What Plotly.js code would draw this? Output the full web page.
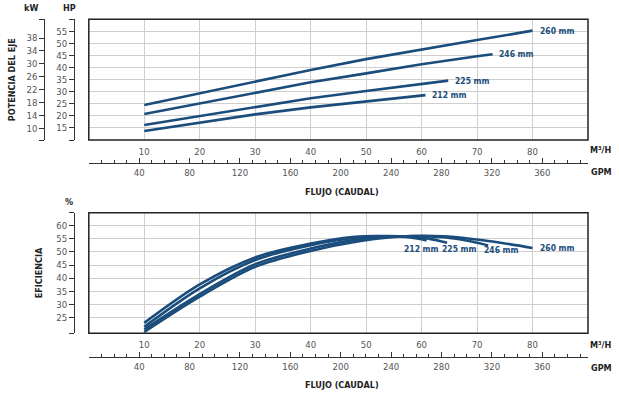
<!DOCTYPE html>
<html>
<head>
<meta charset="utf-8">
<script src="https://cdn.plot.ly/plotly-3.0.1.min.js"></script>
<style>html,body{margin:0;padding:0;background:#fff}#chart{width:619px;height:398px}</style>
</head>
<body>
<div id="chart"></div>
<script>
// ---- data ----
const diameters = ['212 mm', '225 mm', '246 mm', '260 mm'];

// Power (HP) vs flow (m3/h)
const powFlow212 = [10, 20, 30, 40, 50, 60.7];
const powHP212   = [13.7, 17.2, 20.6, 23.5, 26.0, 28.6];
const powFlow225 = [10, 20, 30, 40, 50, 60, 64.8];
const powHP225   = [16.2, 19.9, 23.8, 27.3, 30.3, 33.2, 34.6];
const powFlow246 = [10, 20, 30, 40, 50, 60, 70, 72.8];
const powHP246   = [20.8, 25.2, 29.6, 33.9, 37.6, 41.4, 44.7, 45.5];
const powFlow260 = [10, 20, 30, 40, 50, 60, 70, 80];
const powHP260   = [24.5, 29.3, 34.4, 39.0, 43.5, 47.6, 51.4, 55.3];

// Efficiency (%) vs flow (m3/h)
const effFlow212 = [10, 20, 30, 40, 48, 54, 58, 60.9];
const eff212     = [22.9, 37.6, 47.9, 53.2, 55.8, 56.0, 55.5, 54.4];
const effFlow225 = [10, 20, 30, 40, 49, 56, 61, 64.6];
const eff225     = [21.4, 36.1, 46.9, 52.6, 55.6, 56.0, 55.2, 53.5];
const effFlow246 = [10, 20, 30, 40, 49, 57, 64, 69, 72];
const eff246     = [20.4, 33.9, 45.3, 51.3, 54.9, 56.0, 55.6, 54.0, 52.5];
const effFlow260 = [10, 20, 30, 40, 49, 57, 64, 72, 80];
const eff260     = [19.4, 32.9, 44.3, 50.4, 54.2, 56.0, 56.0, 54.2, 51.5];

// tick labels
const flowTicks = [10, 20, 30, 40, 50, 60, 70, 80];
const gpmTicks  = [40, 80, 120, 160, 200, 240, 280, 320, 360];
const hpTicks   = [10, 15, 20, 25, 30, 35, 40, 45, 50, 55, 60];
const hpText    = ['', '15', '20', '25', '30', '35', '40', '45', '50', '55', ''];
const kwTicks   = [6.37, 10, 14, 18, 22, 26, 30, 34, 38, 43.8];
const kwText    = ['', '10', '14', '18', '22', '26', '30', '34', '38', ''];
const effTicks  = [19, 25, 30, 35, 40, 45, 50, 55, 60, 65];
const effText   = ['', '25', '30', '35', '40', '45', '50', '55', '60', ''];

// ---- styling ----
const BLUE = '#1b4d7c';
const FONT = 'DejaVu Sans Condensed, Liberation Sans Narrow, Arial Narrow, sans-serif';
const tickFont = {family: FONT, size: 9.5, color: '#555'};
const boldFont = {family: FONT, size: 9, color: '#222', weight: 'bold'};
const lblFont  = {family: FONT, size: 8.5, color: BLUE, weight: 'bold'};
const XDOM = [88.8 / 619, 588 / 619];
const M3H_PER_GPM = 0.22712;
const xMax = 90;

function line(x, y, xa, ya, name, shape) {
  return {x: x, y: y, xaxis: xa, yaxis: ya, name: name, type: 'scatter', mode: 'lines',
          line: {color: BLUE, width: 2.6, shape: shape || 'linear', smoothing: 0.9},
          hoverinfo: 'x+y+name', showlegend: false};
}
// empty traces so the secondary (GPM, kW) axes get drawn
function axisHolder(xa, ya) {
  return {x: [], y: [], xaxis: xa, yaxis: ya, type: 'scatter', mode: 'lines', showlegend: false, hoverinfo: 'skip'};
}

const traces = [
  line(powFlow212, powHP212, 'x', 'y', diameters[0]),
  line(powFlow225, powHP225, 'x', 'y', diameters[1]),
  line(powFlow246, powHP246, 'x', 'y', diameters[2]),
  line(powFlow260, powHP260, 'x', 'y', diameters[3]),
  line(effFlow212, eff212, 'x2', 'y3', diameters[0], 'spline'),
  line(effFlow225, eff225, 'x2', 'y3', diameters[1], 'spline'),
  line(effFlow246, eff246, 'x2', 'y3', diameters[2], 'spline'),
  line(effFlow260, eff260, 'x2', 'y3', diameters[3], 'spline'),
  axisHolder('x3', 'y'),
  axisHolder('x', 'y2'),
  axisHolder('x4', 'y3')
];

const topDom = [(398 - 140) / 398, (398 - 19.3) / 398];
const botDom = [(398 - 333.3) / 398, (398 - 212.7) / 398];

function flowAxis(anchor) {
  return {domain: XDOM, range: [0, xMax], anchor: anchor, tickvals: flowTicks, ticks: '',
          showgrid: true, gridcolor: '#cfcfcf', gridwidth: 1, zeroline: false, showline: false,
          tickfont: tickFont, ticklabelstandoff: 4, fixedrange: true};
}
function gpmAxis(over, pos) {
  return {overlaying: over, anchor: 'free', position: pos, side: 'bottom', autorange: false,
          range: [0, xMax / M3H_PER_GPM], tickvals: gpmTicks, ticks: 'inside', ticklen: 5,
          tickcolor: '#333', tickwidth: 1, showline: true, linecolor: '#333', linewidth: 1,
          minor: {dtick: 10, tick0: 0, ticks: 'inside', ticklen: 2.5, tickcolor: '#333'},
          showgrid: false, zeroline: false, tickfont: tickFont, ticklabelstandoff: 1, fixedrange: true};
}
function valAxis(extra) {
  return Object.assign({anchor: 'free', side: 'left', ticks: 'outside', ticklen: 5, tickcolor: '#333',
          showline: true, linecolor: '#333', linewidth: 1, zeroline: false, tickfont: tickFont,
          autorange: false, fixedrange: true}, extra);
}

function note(px, py, text, extra) {
  return Object.assign({xref: 'paper', yref: 'paper', x: px / 619, y: (398 - py) / 398, text: text,
          xanchor: 'center', yanchor: 'middle', showarrow: false, font: boldFont}, extra || {});
}

const layout = {
  width: 619, height: 398,
  margin: {l: 0, r: 0, t: 0, b: 0},
  paper_bgcolor: '#fff', plot_bgcolor: '#fff',
  showlegend: false,
  xaxis: flowAxis('y'),
  xaxis2: flowAxis('y3'),
  xaxis3: gpmAxis('x', (398 - 162.5) / 398),
  xaxis4: gpmAxis('x2', (398 - 356.5) / 398),
  yaxis: valAxis({domain: topDom, range: [10, 60], position: 74 / 619, tickvals: hpTicks, ticktext: hpText,
                  showgrid: true, gridcolor: '#cfcfcf'}),
  yaxis2: valAxis({overlaying: 'y', range: [6.37, 43.8], position: 44.3 / 619, tickvals: kwTicks, ticktext: kwText,
                   showgrid: false,
                   title: {text: 'POTENCIA DEL EJE', font: boldFont, standoff: 8}}),
  yaxis3: valAxis({domain: botDom, range: [18.9, 65], position: 74 / 619, tickvals: effTicks, ticktext: effText,
                   showgrid: true, gridcolor: '#cfcfcf',
                   title: {text: 'EFICIENCIA', font: boldFont, standoff: 11}}),
  shapes: [
    {type: 'rect', xref: 'x domain', yref: 'y domain', x0: 0, x1: 1, y0: 0, y1: 1, line: {color: '#222', width: 1.5}},
    {type: 'rect', xref: 'x2 domain', yref: 'y3 domain', x0: 0, x1: 1, y0: 0, y1: 1, line: {color: '#222', width: 1.5}}
  ],
  annotations: [
    note(31, 8, 'kW'),
    note(69, 8, 'HP'),
    note(69, 202, '%'),
    note(601, 150, 'M³/H'),
    note(601, 172, 'GPM'),
    note(601, 345, 'M³/H'),
    note(601, 368, 'GPM'),
    note(342, 192, 'FLUJO (CAUDAL)'),
    note(342, 385, 'FLUJO (CAUDAL)'),
    // curve labels, power chart
    {xref: 'x', yref: 'y', x: powFlow260[powFlow260.length - 1] + 0.9, y: powHP260[powHP260.length - 1], xanchor: 'left', text: diameters[3], showarrow: false, font: lblFont},
    {xref: 'x', yref: 'y', x: powFlow246[powFlow246.length - 1] + 0.8, y: powHP246[powHP246.length - 1], xanchor: 'left', text: diameters[2], showarrow: false, font: lblFont},
    {xref: 'x', yref: 'y', x: powFlow225[powFlow225.length - 1] + 0.8, y: powHP225[powHP225.length - 1], xanchor: 'left', text: diameters[1], showarrow: false, font: lblFont},
    {xref: 'x', yref: 'y', x: powFlow212[powFlow212.length - 1] + 0.8, y: powHP212[powHP212.length - 1], xanchor: 'left', text: diameters[0], showarrow: false, font: lblFont},
    // curve labels, efficiency chart
    {xref: 'x2', yref: 'y3', x: 59.9, y: 51.0, xanchor: 'center', text: diameters[0], showarrow: false, font: lblFont},
    {xref: 'x2', yref: 'y3', x: 66.9, y: 51.0, xanchor: 'center', text: diameters[1], showarrow: false, font: lblFont},
    {xref: 'x2', yref: 'y3', x: 74.4, y: 50.6, xanchor: 'center', text: diameters[2], showarrow: false, font: lblFont},
    {xref: 'x2', yref: 'y3', x: 80.9, y: 51.6, xanchor: 'left', text: diameters[3], showarrow: false, font: lblFont}
  ]
};

Plotly.newPlot('chart', traces, layout, {displayModeBar: false, staticPlot: true});
</script>
</body>
</html>
